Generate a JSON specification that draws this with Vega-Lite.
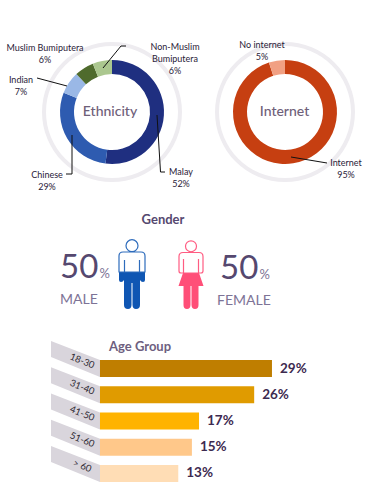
{"$schema":"https://vega.github.io/schema/vega-lite/v6.json","padding":0,"background":"white","bounds":"flush","spacing":0,"resolve":{"scale":{"color":"independent"}},"config":{"view":{"stroke":null},"text":{"font":"Lato"},"title":{"font":"Lato"}},
"datasets":{
"ethnicity":[{"group":"Malay","share":52,"rank":1,"caption":"Malay|52%"},{"group":"Chinese","share":29,"rank":2,"caption":"Chinese|29%"},{"group":"Indian","share":7,"rank":3,"caption":"Indian|7%"},{"group":"Muslim Bumiputera","share":6,"rank":4,"caption":"Muslim Bumiputera|6%"},{"group":"Non-Muslim Bumiputera","share":6,"rank":5,"caption":"Non-Muslim|Bumiputera|6%"}],
"internet":[{"group":"Internet","share":95,"rank":1,"caption":"Internet|95%"},{"group":"No internet","share":5,"rank":2,"caption":"No internet|5%"}],
"rings":[{"ring":"Ethnicity"},{"ring":"Internet"}],
"gender":[{"gender":"Male","share":50,"label":"MALE"},{"gender":"Female","share":50,"label":"FEMALE"}],
"age":[{"band":"18-30","pct":29,"label":"29%"},{"band":"31-40","pct":26,"label":"26%"},{"band":"41-50","pct":16.7,"label":"17%"},{"band":"51-60","pct":15.5,"label":"15%"},{"band":"> 60","pct":13.2,"label":"13%"}]},
"vconcat":[
{"width":377,"height":200,"layer":[
{"data":{"name":"rings"},"transform":[{"filter":"datum.ring==='Ethnicity'"}],"mark":{"type":"arc","theta":0,"theta2":6.2832,"radius":70,"radius2":66,"fill":"#EEECF0"},"encoding":{"x":{"datum":112,"type":"quantitative","scale":{"domain":[0,377]},"axis":null},"y":{"datum":112,"type":"quantitative","scale":{"domain":[0,200],"range":[0,200]},"axis":null}}},
{"data":{"name":"rings"},"transform":[{"filter":"datum.ring==='Internet'"}],"mark":{"type":"arc","theta":0,"theta2":6.2832,"radius":70,"radius2":66,"fill":"#EEECF0"},"encoding":{"x":{"datum":285,"type":"quantitative","scale":{"domain":[0,377]},"axis":null},"y":{"datum":112,"type":"quantitative","scale":{"domain":[0,200],"range":[0,200]},"axis":null}}},
{"data":{"name":"ethnicity"},"mark":{"type":"arc","radius":52,"radius2":38},"encoding":{"x":{"datum":112,"type":"quantitative","scale":{"domain":[0,377]},"axis":null},"y":{"datum":112,"type":"quantitative","scale":{"domain":[0,200],"range":[0,200]},"axis":null},"theta":{"field":"share","type":"quantitative","stack":true,"scale":{"domain":[0,100]}},"order":{"field":"rank"},"color":{"field":"group","type":"nominal","legend":null,"scale":{"domain":["Malay","Chinese","Indian","Muslim Bumiputera","Non-Muslim Bumiputera","Internet","No internet"],"range":["#1F2F80","#2E5BB0","#9AB8E6","#4F6B2D","#ABC78F","#C63F11","#F1A083"]}}}},
{"data":{"name":"internet"},"mark":{"type":"arc","radius":52,"radius2":38},"encoding":{"x":{"datum":285,"type":"quantitative","scale":{"domain":[0,377]},"axis":null},"y":{"datum":112,"type":"quantitative","scale":{"domain":[0,200],"range":[0,200]},"axis":null},"theta":{"field":"share","type":"quantitative","stack":true,"scale":{"domain":[0,100]}},"order":{"field":"rank"},"color":{"field":"group","type":"nominal","legend":null,"scale":{"domain":["Malay","Chinese","Indian","Muslim Bumiputera","Non-Muslim Bumiputera","Internet","No internet"],"range":["#1F2F80","#2E5BB0","#9AB8E6","#4F6B2D","#ABC78F","#C63F11","#F1A083"]}}}},
{"data":{"name":"rings"},"transform":[{"filter":"datum.ring==='Ethnicity'"}],"mark":{"type":"text","fontSize":14,"fontWeight":500,"color":"#6E6079"},"encoding":{"text":{"field":"ring"},"x":{"datum":110,"type":"quantitative","scale":{"domain":[0,377]},"axis":null},"y":{"datum":112,"type":"quantitative","scale":{"domain":[0,200],"range":[0,200]},"axis":null}}},
{"data":{"name":"rings"},"transform":[{"filter":"datum.ring==='Internet'"}],"mark":{"type":"text","fontSize":14,"fontWeight":500,"color":"#6E6079"},"encoding":{"text":{"field":"ring"},"x":{"datum":284.5,"type":"quantitative","scale":{"domain":[0,377]},"axis":null},"y":{"datum":112,"type":"quantitative","scale":{"domain":[0,200],"range":[0,200]},"axis":null}}},
{"data":{"name":"ethnicity"},"transform":[{"filter":"datum.group==='Malay'"}],"mark":{"type":"rule","color":"#111","strokeWidth":1},"encoding":{"x":{"datum":157,"type":"quantitative","scale":{"domain":[0,377]},"axis":null},"y":{"datum":115,"type":"quantitative","scale":{"domain":[0,200],"range":[0,200]},"axis":null},"x2":{"datum":160.5},"y2":{"datum":172}}},
{"data":{"name":"ethnicity"},"transform":[{"filter":"datum.group==='Malay'"}],"mark":{"type":"rule","color":"#111","strokeWidth":1},"encoding":{"x":{"datum":160.5,"type":"quantitative","scale":{"domain":[0,377]},"axis":null},"y":{"datum":172,"type":"quantitative","scale":{"domain":[0,200],"range":[0,200]},"axis":null},"x2":{"datum":165},"y2":{"datum":172}}},
{"data":{"name":"ethnicity"},"transform":[{"filter":"datum.group==='Chinese'"}],"mark":{"type":"rule","color":"#111","strokeWidth":1},"encoding":{"x":{"datum":72,"type":"quantitative","scale":{"domain":[0,377]},"axis":null},"y":{"datum":135,"type":"quantitative","scale":{"domain":[0,200],"range":[0,200]},"axis":null},"x2":{"datum":72},"y2":{"datum":174}}},
{"data":{"name":"ethnicity"},"transform":[{"filter":"datum.group==='Chinese'"}],"mark":{"type":"rule","color":"#111","strokeWidth":1},"encoding":{"x":{"datum":72,"type":"quantitative","scale":{"domain":[0,377]},"axis":null},"y":{"datum":174,"type":"quantitative","scale":{"domain":[0,200],"range":[0,200]},"axis":null},"x2":{"datum":66},"y2":{"datum":174}}},
{"data":{"name":"ethnicity"},"transform":[{"filter":"datum.group==='Indian'"}],"mark":{"type":"rule","color":"#111","strokeWidth":1},"encoding":{"x":{"datum":37,"type":"quantitative","scale":{"domain":[0,377]},"axis":null},"y":{"datum":78,"type":"quantitative","scale":{"domain":[0,200],"range":[0,200]},"axis":null},"x2":{"datum":67},"y2":{"datum":86}}},
{"data":{"name":"ethnicity"},"transform":[{"filter":"datum.group==='Non-Muslim Bumiputera'"}],"mark":{"type":"rule","color":"#111","strokeWidth":1},"encoding":{"x":{"datum":103,"type":"quantitative","scale":{"domain":[0,377]},"axis":null},"y":{"datum":68,"type":"quantitative","scale":{"domain":[0,200],"range":[0,200]},"axis":null},"x2":{"datum":121},"y2":{"datum":46}}},
{"data":{"name":"ethnicity"},"transform":[{"filter":"datum.group==='Non-Muslim Bumiputera'"}],"mark":{"type":"rule","color":"#111","strokeWidth":1},"encoding":{"x":{"datum":121,"type":"quantitative","scale":{"domain":[0,377]},"axis":null},"y":{"datum":46,"type":"quantitative","scale":{"domain":[0,200],"range":[0,200]},"axis":null},"x2":{"datum":126},"y2":{"datum":46}}},
{"data":{"name":"internet"},"transform":[{"filter":"datum.group==='Internet'"}],"mark":{"type":"rule","color":"#111","strokeWidth":1},"encoding":{"x":{"datum":291,"type":"quantitative","scale":{"domain":[0,377]},"axis":null},"y":{"datum":157,"type":"quantitative","scale":{"domain":[0,200],"range":[0,200]},"axis":null},"x2":{"datum":327},"y2":{"datum":163}}},
{"data":{"name":"ethnicity"},"transform":[{"filter":"datum.group==='Malay'"}],"mark":{"type":"text","fontSize":9,"lineBreak":"|","lineHeight":12,"color":"#2A2138"},"encoding":{"text":{"field":"caption"},"x":{"datum":181,"type":"quantitative","scale":{"domain":[0,377]},"axis":null},"y":{"datum":172,"type":"quantitative","scale":{"domain":[0,200],"range":[0,200]},"axis":null}}},
{"data":{"name":"ethnicity"},"transform":[{"filter":"datum.group==='Chinese'"}],"mark":{"type":"text","fontSize":9,"lineBreak":"|","lineHeight":12,"color":"#2A2138"},"encoding":{"text":{"field":"caption"},"x":{"datum":47,"type":"quantitative","scale":{"domain":[0,377]},"axis":null},"y":{"datum":175,"type":"quantitative","scale":{"domain":[0,200],"range":[0,200]},"axis":null}}},
{"data":{"name":"ethnicity"},"transform":[{"filter":"datum.group==='Indian'"}],"mark":{"type":"text","fontSize":9,"lineBreak":"|","lineHeight":12,"color":"#2A2138"},"encoding":{"text":{"field":"caption"},"x":{"datum":21,"type":"quantitative","scale":{"domain":[0,377]},"axis":null},"y":{"datum":79.5,"type":"quantitative","scale":{"domain":[0,200],"range":[0,200]},"axis":null}}},
{"data":{"name":"ethnicity"},"transform":[{"filter":"datum.group==='Muslim Bumiputera'"}],"mark":{"type":"text","fontSize":9,"lineBreak":"|","lineHeight":12,"color":"#2A2138"},"encoding":{"text":{"field":"caption"},"x":{"datum":45,"type":"quantitative","scale":{"domain":[0,377]},"axis":null},"y":{"datum":48,"type":"quantitative","scale":{"domain":[0,200],"range":[0,200]},"axis":null}}},
{"data":{"name":"ethnicity"},"transform":[{"filter":"datum.group==='Non-Muslim Bumiputera'"}],"mark":{"type":"text","fontSize":9,"lineBreak":"|","lineHeight":12,"color":"#2A2138"},"encoding":{"text":{"field":"caption"},"x":{"datum":175,"type":"quantitative","scale":{"domain":[0,377]},"axis":null},"y":{"datum":47,"type":"quantitative","scale":{"domain":[0,200],"range":[0,200]},"axis":null}}},
{"data":{"name":"internet"},"transform":[{"filter":"datum.group==='Internet'"}],"mark":{"type":"text","fontSize":9,"lineBreak":"|","lineHeight":12,"color":"#2A2138"},"encoding":{"text":{"field":"caption"},"x":{"datum":346,"type":"quantitative","scale":{"domain":[0,377]},"axis":null},"y":{"datum":163,"type":"quantitative","scale":{"domain":[0,200],"range":[0,200]},"axis":null}}},
{"data":{"name":"internet"},"transform":[{"filter":"datum.group==='No internet'"}],"mark":{"type":"text","fontSize":9,"lineBreak":"|","lineHeight":12,"color":"#2A2138"},"encoding":{"text":{"field":"caption"},"x":{"datum":262,"type":"quantitative","scale":{"domain":[0,377]},"axis":null},"y":{"datum":45,"type":"quantitative","scale":{"domain":[0,200],"range":[0,200]},"axis":null}}}
]},
{"width":377,"height":135,"layer":[
{"data":{"values":[{"heading":"Gender"}]},"mark":{"type":"text","fontSize":13,"fontWeight":"bold","color":"#55486F"},"encoding":{"text":{"field":"heading"},"x":{"datum":163,"type":"quantitative","scale":{"domain":[0,377]},"axis":null},"y":{"datum":20,"type":"quantitative","scale":{"domain":[0,135],"range":[0,135]},"axis":null}}},
{"data":{"name":"gender"},"transform":[{"filter":"datum.gender==='Male'"}],"mark":{"type":"point","filled":true,"size":4,"opacity":1,"strokeWidth":0,"fill":"#0F56B3","shape":"M-13,-5H13V3Q13,5 11,5Q9,5 8,3V28Q8,32 4,32Q0.7,32 0.5,28V6H-0.5V28Q-0.7,32 -4,32Q-8,32 -8,28V3Q-9,5 -11,5Q-13,5 -13,3Z"},"encoding":{"x":{"datum":132,"type":"quantitative","scale":{"domain":[0,377]},"axis":null},"y":{"datum":77,"type":"quantitative","scale":{"domain":[0,135],"range":[0,135]},"axis":null}}},
{"data":{"name":"gender"},"transform":[{"filter":"datum.gender==='Male'"}],"mark":{"type":"point","filled":false,"size":4,"opacity":1,"strokeWidth":1.2,"stroke":"#2E6CBC","shape":"M-6,-31.3A6,6 0 1,0 6,-31.3A6,6 0 1,0 -6,-31.3ZM-9,-25H9Q13,-25 13,-21V-5H-13V-21Q-13,-25 -9,-25ZM-7.5,-17V-5M7.5,-17V-5"},"encoding":{"x":{"datum":132,"type":"quantitative","scale":{"domain":[0,377]},"axis":null},"y":{"datum":77,"type":"quantitative","scale":{"domain":[0,135],"range":[0,135]},"axis":null}}},
{"data":{"name":"gender"},"transform":[{"filter":"datum.gender==='Female'"}],"mark":{"type":"point","filled":true,"size":4,"opacity":1,"strokeWidth":0,"fill":"#FF4F78","shape":"M-8,-4H8L12.5,9H7.5V28Q7.5,32 4,32Q0.7,32 0.5,28V9H-0.5V28Q-0.7,32 -4,32Q-7.5,32 -7.5,28V9H-12.5Z"},"encoding":{"x":{"datum":191,"type":"quantitative","scale":{"domain":[0,377]},"axis":null},"y":{"datum":77,"type":"quantitative","scale":{"domain":[0,135],"range":[0,135]},"axis":null}}},
{"data":{"name":"gender"},"transform":[{"filter":"datum.gender==='Female'"}],"mark":{"type":"point","filled":false,"size":4,"opacity":1,"strokeWidth":1.2,"stroke":"#FF5C82","shape":"M-5.5,-30.7A5.5,5.5 0 1,0 5.5,-30.7A5.5,5.5 0 1,0 -5.5,-30.7ZM-8,-24.5H8Q12,-24.5 12,-20.5V-6Q12,-4 10,-4H-10Q-12,-4 -12,-6V-20.5Q-12,-24.5 -8,-24.5ZM-7.5,-18V-4M7.5,-18V-4"},"encoding":{"x":{"datum":191,"type":"quantitative","scale":{"domain":[0,377]},"axis":null},"y":{"datum":77,"type":"quantitative","scale":{"domain":[0,135],"range":[0,135]},"axis":null}}},
{"data":{"name":"gender"},"transform":[{"filter":"datum.gender==='Male'"}],"mark":{"type":"text","fontSize":33,"align":"left","color":"#55486F"},"encoding":{"text":{"field":"share"},"x":{"datum":60,"type":"quantitative","scale":{"domain":[0,377]},"axis":null},"y":{"datum":68,"type":"quantitative","scale":{"domain":[0,135],"range":[0,135]},"axis":null}}},
{"data":{"name":"gender"},"transform":[{"filter":"datum.gender==='Female'"}],"mark":{"type":"text","fontSize":33,"align":"left","color":"#55486F"},"encoding":{"text":{"field":"share"},"x":{"datum":220,"type":"quantitative","scale":{"domain":[0,377]},"axis":null},"y":{"datum":69,"type":"quantitative","scale":{"domain":[0,135],"range":[0,135]},"axis":null}}},
{"data":{"name":"gender"},"transform":[{"filter":"datum.gender==='Male'"}],"mark":{"type":"text","fontSize":13,"align":"left","color":"#7D7396","text":"%"},"encoding":{"x":{"datum":99.5,"type":"quantitative","scale":{"domain":[0,377]},"axis":null},"y":{"datum":74,"type":"quantitative","scale":{"domain":[0,135],"range":[0,135]},"axis":null}}},
{"data":{"name":"gender"},"transform":[{"filter":"datum.gender==='Female'"}],"mark":{"type":"text","fontSize":13,"align":"left","color":"#7D7396","text":"%"},"encoding":{"x":{"datum":259.5,"type":"quantitative","scale":{"domain":[0,377]},"axis":null},"y":{"datum":75,"type":"quantitative","scale":{"domain":[0,135],"range":[0,135]},"axis":null}}},
{"data":{"name":"gender"},"transform":[{"filter":"datum.gender==='Male'"}],"mark":{"type":"text","fontSize":14,"align":"left","color":"#7D7396"},"encoding":{"text":{"field":"label"},"x":{"datum":60,"type":"quantitative","scale":{"domain":[0,377]},"axis":null},"y":{"datum":100,"type":"quantitative","scale":{"domain":[0,135],"range":[0,135]},"axis":null}}},
{"data":{"name":"gender"},"transform":[{"filter":"datum.gender==='Female'"}],"mark":{"type":"text","fontSize":14,"align":"left","color":"#7D7396"},"encoding":{"text":{"field":"label"},"x":{"datum":217,"type":"quantitative","scale":{"domain":[0,377]},"axis":null},"y":{"datum":101,"type":"quantitative","scale":{"domain":[0,135],"range":[0,135]},"axis":null}}}
]},
{"width":377,"height":161,"title":{"text":"Age Group","anchor":"start","dx":109,"offset":-19,"fontSize":13,"fontWeight":"bold","color":"#6E5F7F"},"data":{"name":"age"},
"encoding":{"y":{"field":"band","type":"nominal","sort":null,"axis":null,"scale":{"domain":["18-30","31-40","41-50","51-60","> 60"],"range":[20.4,151.6],"paddingInner":0.352,"paddingOuter":0.176}}},
"layer":[
{"mark":{"type":"point","filled":true,"size":4,"opacity":1,"strokeWidth":0,"fill":"#D9D5DC","shape":"M0,-8.5L0,8.5L-49,-11.5L-49,-27.5Z"},"encoding":{"x":{"datum":0,"type":"quantitative","scale":{"domain":[-16.86,46.71]},"axis":null}}},
{"mark":{"type":"text","fontSize":9.5,"angle":22,"dy":-8,"color":"#2F2A33"},"encoding":{"text":{"field":"band"},"x":{"datum":-3.5,"type":"quantitative","scale":{"domain":[-16.86,46.71]},"axis":null}}},
{"mark":{"type":"bar"},"encoding":{"x":{"field":"pct","type":"quantitative","scale":{"domain":[-16.86,46.71]},"axis":null},"color":{"field":"band","type":"nominal","legend":null,"scale":{"domain":["18-30","31-40","41-50","51-60","> 60"],"range":["#BF7E00","#E09B00","#FFB300","#FFC88A","#FFDDB5"]}}}},
{"mark":{"type":"text","align":"left","dx":8,"fontSize":13.5,"fontWeight":"bold","color":"#3D2A50"},"encoding":{"text":{"field":"label"},"x":{"field":"pct","type":"quantitative","scale":{"domain":[-16.86,46.71]},"axis":null}}}
]}
]}
